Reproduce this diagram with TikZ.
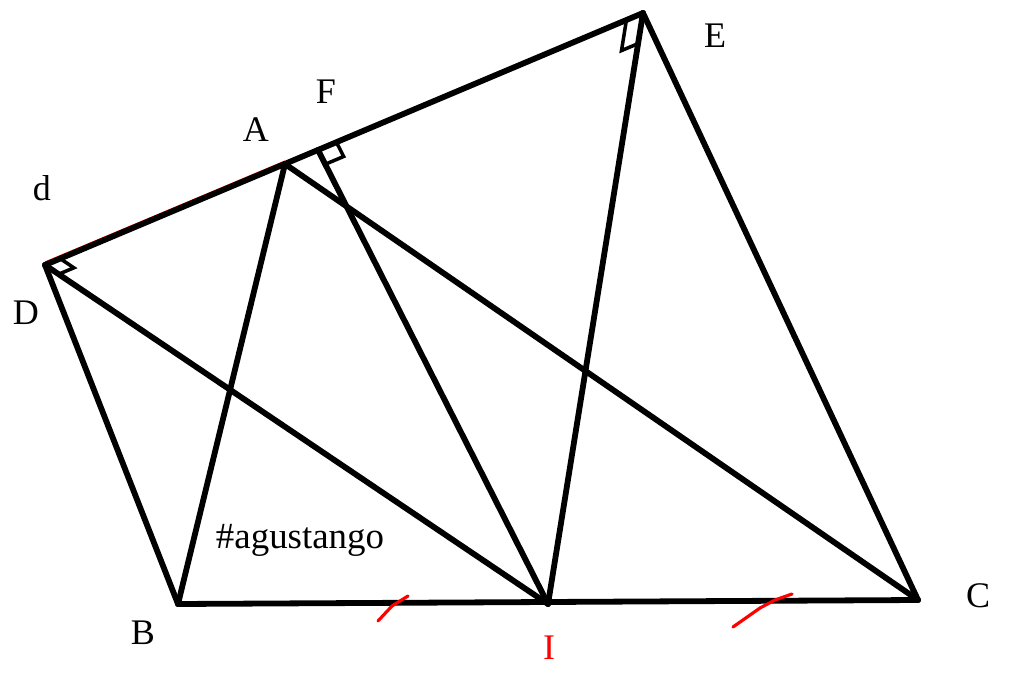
\documentclass[tikz,border=0pt]{standalone}
\usepackage{fontspec}
\setmainfont{Liberation Serif}
\usetikzlibrary{calc}
\begin{document}
\begin{tikzpicture}[x=0.02cm,y=-0.02cm,
  seg/.style={line width=3.3pt,line cap=round,line join=round},
  rmark/.style={line width=2pt,line join=miter},
  tick/.style={red,line width=1.8pt,line cap=round},
  lbl/.style={font=\fontsize{20.5}{24}\selectfont},
  poster/.style={font=\fontsize{21}{25}\selectfont}]
\useasboundingbox (0,0) rectangle (1024,692);
\coordinate (D) at (45,265);
\coordinate (A) at (285,164);
\coordinate (F) at (318,150);
\coordinate (E) at (643,13);
\coordinate (B) at (178,604);
\coordinate (I) at (548,604);
\coordinate (C) at (918,600);
% thin red trace along the top line
\draw[red,line width=0.6pt] ($(D)+(0,-3)$) -- ($(A)+(0,-3)$);
% segments
\draw[seg] (D) -- (E);
\draw[seg] (D) -- (B);
\draw[seg] (B) -- (C);
\draw[seg] (D) -- (I);
\draw[seg] (A) -- (B);
\draw[seg] (A) -- (C);
\draw[seg] (F) -- (I);
\draw[seg] (E) -- (I);
\draw[seg] (E) -- (C);
% right angle marks
\draw[rmark] ($(D)!0.33cm!(E)$) -- ($(D)!0.33cm!(E)+(D)!0.33cm!(I)-(D)$) -- ($(D)!0.33cm!(I)$);
\draw[rmark] ($(F)!0.4cm!(E)$) -- ($(F)!0.4cm!(E)+(F)!0.32cm!(I)-(F)$) -- ($(F)!0.32cm!(I)$);
\draw[rmark] ($(E)!0.36cm!(D)$) -- ($(E)!0.36cm!(D)+(E)!0.62cm!(I)-(E)$) -- ($(E)!0.62cm!(I)$);
% tick marks
\draw[tick] (378,621) -- (392,606) -- (408,596);
\draw[tick] (733,627) -- (760,608) -- (775,600) -- (792,594);
% labels
\node[lbl] (lE) at (715,36) {E};
\node[lbl] (lF) at (326,92) {F};
\node[lbl] (lA) at (256,130) {A};
\node[lbl] (ld) at (42,188) {d};
\node[lbl] (lD) at (26,313) {D};
\node[lbl] (lB) at (143,633) {B};
\node[lbl,red] (lI) at (549,648) {I};
\node[lbl] (lC) at (978,596) {C};
\node[poster] (tag) at (300,540) {\#agustango};
\end{tikzpicture}
\end{document}
